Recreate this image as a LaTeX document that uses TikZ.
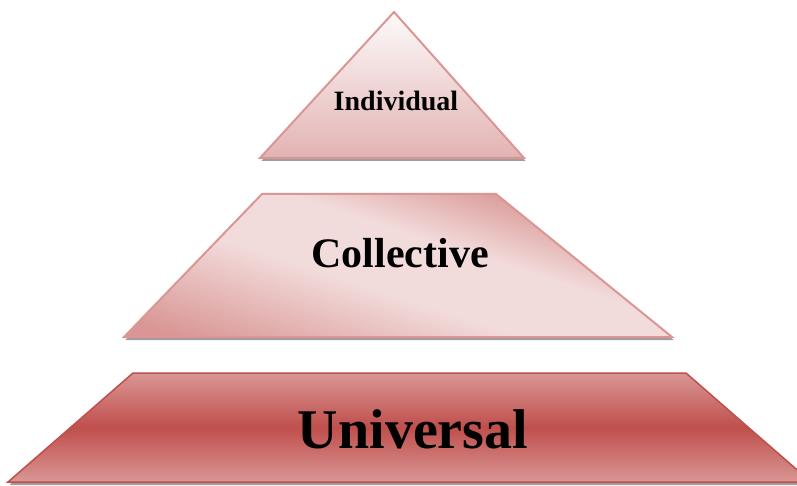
\documentclass[tikz,border=0pt]{standalone}
\usepackage{fontspec}
\setmainfont{Liberation Serif}
\usetikzlibrary{shadows,positioning}
\definecolor{rosedark}{rgb}{0.85, 0.59, 0.58}
\definecolor{roselight}{rgb}{0.95, 0.86, 0.86}
\definecolor{rosepale}{rgb}{0.99, 0.98, 0.98}
\definecolor{rosemid}{rgb}{0.89, 0.70, 0.70}
\definecolor{brickred}{rgb}{0.75, 0.31, 0.30}
\pgfdeclarehorizontalshading{collectiveshade}{100bp}{color(0bp)=(rosedark); color(22bp)=(rosedark); color(44bp)=(roselight); color(57bp)=(roselight); color(72bp)=(rosedark); color(100bp)=(rosedark)}
\tikzset{
	layershadow/.style={drop shadow={shadow xshift=1.5pt, shadow yshift=-3pt, fill=black!55, opacity=0.7}},
	layertext/.style={inner sep=0pt, font=\bfseries}
}

\begin{document}
\begin{tikzpicture}[x=1pt,y=-1pt]
		
		\clip (0,0) rectangle (797,486);
		
		% top layer
		\path[draw=rosedark, line width=2pt, top color=rosepale, bottom color=rosemid, layershadow] (394,12) -- (524,158) -- (260,158) -- cycle;
		\node[layertext, font=\bfseries\fontsize{28}{30}\selectfont] (individual) at (396,101) {Individual};
		
		% middle layer
		\path[draw=rosedark, line width=2pt, shading=collectiveshade, shading angle=72, layershadow] (262,194) -- (496,194) -- (672,337) -- (124,337) -- cycle;
		\node[layertext, font=\bfseries\fontsize{42}{44}\selectfont] (collective) at (400,253) {Collective};
		
		% bottom layer
		\path[draw=brickred, line width=1.5pt, top color=rosedark, bottom color=rosedark, middle color=brickred, layershadow] (133,373) -- (686,373) -- (811,482) -- (8,482) -- cycle;
		\node[layertext, font=\bfseries\fontsize{56}{58}\selectfont] (universal) at (413,429) {Universal};
		
\end{tikzpicture}
\end{document}
